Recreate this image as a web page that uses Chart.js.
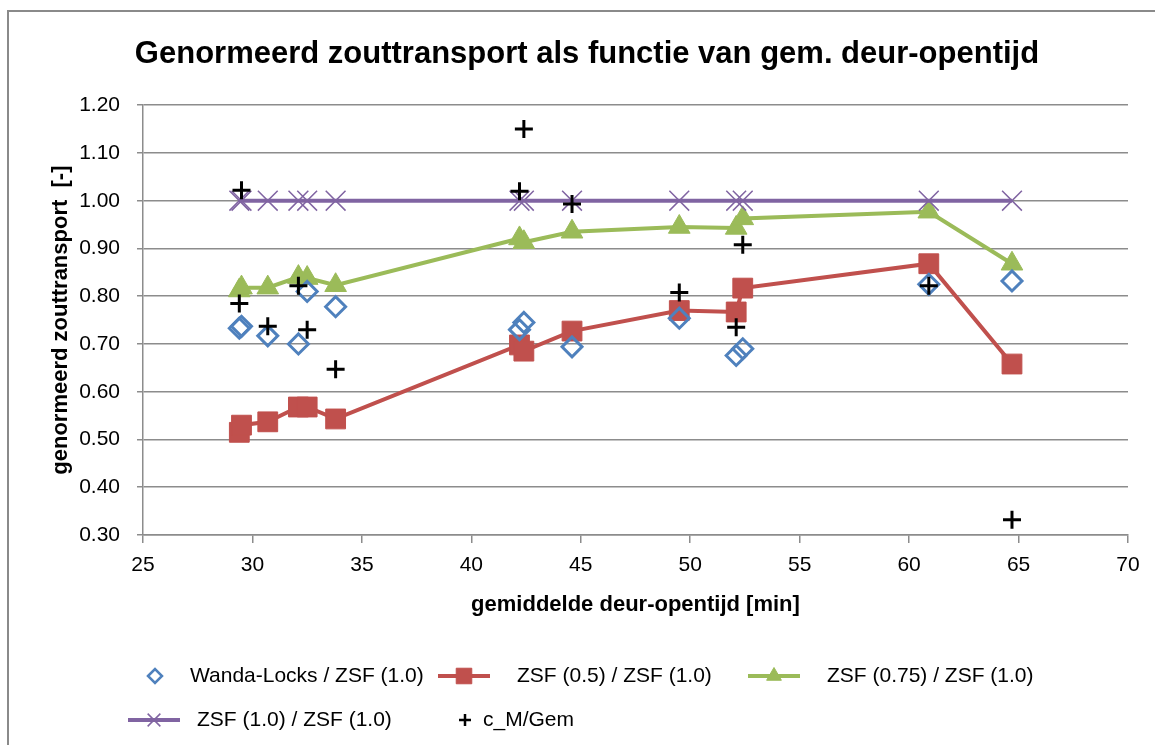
<!DOCTYPE html>
<html>
<head>
<meta charset="utf-8">
<script src="https://cdn.jsdelivr.net/npm/chart.js@4.4.0/dist/chart.umd.min.js"></script>
<style>
  html, body { margin: 0; padding: 0; background: #fff; }
  canvas { display: block; }
</style>
</head>
<body>
<canvas id="chart" width="1155" height="745"></canvas>
<script>
// gemiddelde deur-opentijd [min], shared by all series
const xValues = [29.4, 29.5, 30.7, 32.1, 32.5, 33.8, 42.2, 42.4, 44.6, 49.5, 52.1, 52.4, 60.9, 64.7];

// genormeerd zouttransport [-]
const wandaLocks = [0.733, 0.737, 0.717, 0.700, 0.810, 0.778, 0.730, 0.745, 0.694, 0.754, 0.676, 0.690, 0.825, 0.832];
const zsf050 = [0.515, 0.530, 0.537, 0.568, 0.568, 0.543, 0.698, 0.685, 0.727, 0.770, 0.767, 0.817, 0.868, 0.658];
const zsf075 = [0.812, 0.818, 0.818, 0.840, 0.838, 0.823, 0.921, 0.913, 0.935, 0.945, 0.943, 0.963, 0.977, 0.868];
const zsf100 = [1.00, 1.00, 1.00, 1.00, 1.00, 1.00, 1.00, 1.00, 1.00, 1.00, 1.00, 1.00, 1.00, 1.00];
const cMGem = [0.785, 1.022, 0.737, 0.822, 0.730, 0.647, 1.020, 1.150, 0.993, 0.808, 0.735, 0.908, 0.822, 0.332];

const seriesLabels = ['Wanda-Locks / ZSF (1.0)', 'ZSF (0.5) / ZSF (1.0)', 'ZSF (0.75) / ZSF (1.0)', 'ZSF (1.0) / ZSF (1.0)', 'c_M/Gem'];
const xTitle = 'gemiddelde deur-opentijd [min]';
const yTitle = 'genormeerd zouttransport  [-]';
const chartTitle = 'Genormeerd zouttransport als functie van gem. deur-opentijd';

const FONT = "'Liberation Sans', Arial, sans-serif";
const GRID = '#8c8c8c';

const toPoints = (ys) => ys.map((y, i) => ({ x: xValues[i], y: y }));

// white background + the grey chart frame (left and top edge visible)
const framePlugin = {
  id: 'frame',
  beforeDraw(chart) {
    const ctx = chart.ctx;
    ctx.save();
    ctx.fillStyle = '#fff';
    ctx.fillRect(0, 0, chart.width, chart.height);
    ctx.strokeStyle = '#8a8a8a';
    ctx.lineWidth = 2;
    ctx.beginPath();
    ctx.moveTo(8, chart.height);
    ctx.lineTo(8, 11);
    ctx.lineTo(chart.width, 11);
    ctx.stroke();
    ctx.restore();
  }
};

// Excel style legend: two rows under the x axis
const legendLayout = [
  { ds: 0, row: 0, sample: 155, line: false, text: 190, radius: 7, width: 2.5 },
  { ds: 1, row: 0, sample: 464, line: true, text: 517, radius: 11, width: 1 },
  { ds: 2, row: 0, sample: 774, line: true, text: 827, radius: 8.5, width: 1 },
  { ds: 3, row: 1, sample: 154, line: true, text: 197, radius: 9, width: 1.5 },
  { ds: 4, row: 1, sample: 465, line: false, text: 483, radius: 6, width: 2.5 }
];
const legendRows = [676, 720];

const legendPlugin = {
  id: 'excelLegend',
  afterDraw(chart) {
    const ctx = chart.ctx;
    ctx.save();
    legendLayout.forEach((item) => {
      const ds = chart.data.datasets[item.ds];
      const y = legendRows[item.row];
      if (item.line) {
        ctx.strokeStyle = ds.borderColor;
        ctx.lineWidth = 4;
        ctx.beginPath();
        ctx.moveTo(item.sample - 26, y);
        ctx.lineTo(item.sample + 26, y);
        ctx.stroke();
      }
      ctx.fillStyle = ds.pointBackgroundColor;
      ctx.strokeStyle = ds.pointBorderColor;
      ctx.lineWidth = item.width;
      Chart.helpers.drawPoint(ctx, {
        pointStyle: ds.pointStyle,
        radius: item.radius,
        borderWidth: item.width,
        rotation: 0
      }, item.sample, y);
      ctx.fillStyle = '#000';
      ctx.font = '21px ' + FONT;
      ctx.textBaseline = 'middle';
      ctx.textAlign = 'left';
      ctx.fillText(ds.label, item.text, y);
    });
    ctx.restore();
  }
};

const chart = new Chart(document.getElementById('chart').getContext('2d'), {
  type: 'scatter',
  data: {
    datasets: [
      {
        label: seriesLabels[0],
        data: toPoints(wandaLocks),
        showLine: false,
        pointStyle: 'rectRot',
        pointRadius: 10,
        pointBorderWidth: 3,
        pointBorderColor: '#4F81BD',
        pointBackgroundColor: 'rgba(255,255,255,0)',
        borderColor: '#4F81BD',
        order: 2
      },
      {
        label: seriesLabels[1],
        data: toPoints(zsf050),
        showLine: true,
        borderColor: '#C0504D',
        borderWidth: 4,
        pointStyle: 'rect',
        pointRadius: 14,
        pointBorderWidth: 1,
        pointBorderColor: '#C0504D',
        pointBackgroundColor: '#C0504D',
        order: 5
      },
      {
        label: seriesLabels[2],
        data: toPoints(zsf075),
        showLine: true,
        borderColor: '#9BBB59',
        borderWidth: 4,
        pointStyle: 'triangle',
        pointRadius: 12.5,
        pointBorderWidth: 1,
        pointBorderColor: '#9BBB59',
        pointBackgroundColor: '#9BBB59',
        order: 4
      },
      {
        label: seriesLabels[3],
        data: toPoints(zsf100),
        showLine: true,
        borderColor: '#8064A2',
        borderWidth: 4,
        pointStyle: 'crossRot',
        pointRadius: 14,
        pointBorderWidth: 1.5,
        pointBorderColor: '#8064A2',
        pointBackgroundColor: '#8064A2',
        order: 3
      },
      {
        label: seriesLabels[4],
        data: toPoints(cMGem),
        showLine: false,
        pointStyle: 'cross',
        pointRadius: 9,
        pointBorderWidth: 3,
        pointBorderColor: '#000',
        pointBackgroundColor: '#000',
        borderColor: '#000',
        order: 1
      }
    ]
  },
  options: {
    responsive: false,
    animation: false,
    devicePixelRatio: 1,
    layout: { padding: { left: 46, right: 27, top: 0, bottom: 105 } },
    plugins: {
      legend: { display: false },
      tooltip: { enabled: false },
      title: {
        display: true,
        text: chartTitle,
        color: '#000',
        font: { family: FONT, size: 31, weight: 'bold' },
        padding: { top: 36, bottom: 32 }
      }
    },
    scales: {
      x: {
        type: 'linear',
        min: 25,
        max: 70,
        ticks: {
          stepSize: 5,
          color: '#000',
          padding: 10,
          font: { family: FONT, size: 21 }
        },
        grid: { drawOnChartArea: false, color: GRID, lineWidth: 1.5, tickLength: 8 },
        border: { color: GRID, width: 1.5 },
        title: {
          display: true,
          text: xTitle,
          color: '#000',
          font: { family: FONT, size: 22, weight: 'bold' },
          padding: { top: 0, bottom: 22 }
        },
        afterFit: (scale) => { scale.height = 105; }
      },
      y: {
        min: 0.3,
        max: 1.2,
        ticks: {
          stepSize: 0.1,
          color: '#000',
          padding: 17,
          font: { family: FONT, size: 21 },
          callback: (v) => Number(v).toFixed(2)
        },
        grid: { color: GRID, lineWidth: 1.5, tickLength: 6 },
        border: { color: GRID, width: 1.5 },
        title: {
          display: true,
          text: yTitle,
          color: '#000',
          font: { family: FONT, size: 22, weight: 'bold' },
          padding: { top: 2, bottom: 0 }
        },
        afterFit: (scale) => { scale.width = 97; }
      }
    }
  },
  plugins: [framePlugin, legendPlugin]
});
</script>
</body>
</html>
